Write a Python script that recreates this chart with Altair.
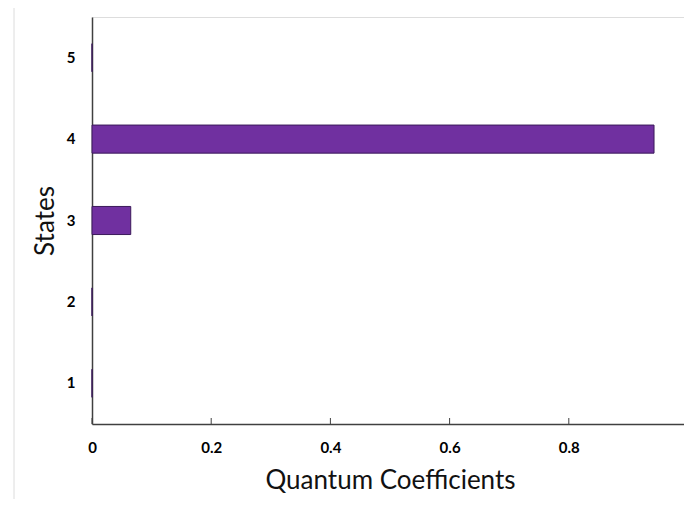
import altair as alt
import pandas as pd

states = ["1", "2", "3", "4", "5"]
coefficients = [0.0, 0.0, 0.065, 0.943, 0.0]
x_ticks = [0, 0.2, 0.4, 0.6, 0.8, 1.0]

bars_df = pd.DataFrame({"State": states, "Coefficient": coefficients})
ticks_df = pd.DataFrame({"t": x_ticks})

W, H = 596, 407
FONT = "Lato"

xscale = alt.Scale(domain=[0, 1], nice=False, zero=True)

bars = alt.Chart(bars_df).mark_bar(
    color="#7030A0", stroke="#3b1a5a", strokeWidth=1
).encode(
    x=alt.X("Coefficient:Q", scale=xscale,
            axis=alt.Axis(values=x_ticks, format="~g", title="Quantum Coefficients",
                          grid=False, ticks=False, labelPadding=16, titlePadding=12,
                          labelFont=FONT, labelFontWeight="bold", labelFontSize=15,
                          labelColor="#000000", titleFont=FONT, titleFontSize=26,
                          titleFontWeight="normal", titleColor="#111111",
                          domainColor="#404040", domainWidth=1.5, labelFlush=False)),
    y=alt.Y("State:N", sort=["5", "4", "3", "2", "1"],
            scale=alt.Scale(paddingInner=0.655, paddingOuter=0.3275),
            axis=alt.Axis(title="States", ticks=False, grid=False, labelPadding=17,
                          labelFont=FONT, labelFontWeight="bold", labelFontSize=15,
                          labelColor="#000000", labelAngle=0,
                          titleFont=FONT, titleFontSize=26, titleFontWeight="normal",
                          titleColor="#111111", titlePadding=8,
                          domainColor="#404040", domainWidth=1.5)),
)

tick_marks = alt.Chart(ticks_df).mark_rule(color="#404040", strokeWidth=1).encode(
    x=alt.X("t:Q", scale=xscale),
    y=alt.value(H),
    y2=alt.value(H - 6),
)

frame = alt.Chart(ticks_df.head(1)).mark_rule(color="#dcdcdc", strokeWidth=1).encode(
    x=alt.value(-78), y=alt.value(-9), y2=alt.value(H + 75)
)

chart = alt.layer(frame, bars, tick_marks).properties(
    width=W, height=H,
    autosize=alt.AutoSizeParams(type="none"),
    padding={"left": 84, "top": 9, "right": -4, "bottom": 75},
).configure_view(stroke=None).configure(background="#ffffff")

chart.save("out.html", embed_options={"renderer": "svg", "actions": False})
